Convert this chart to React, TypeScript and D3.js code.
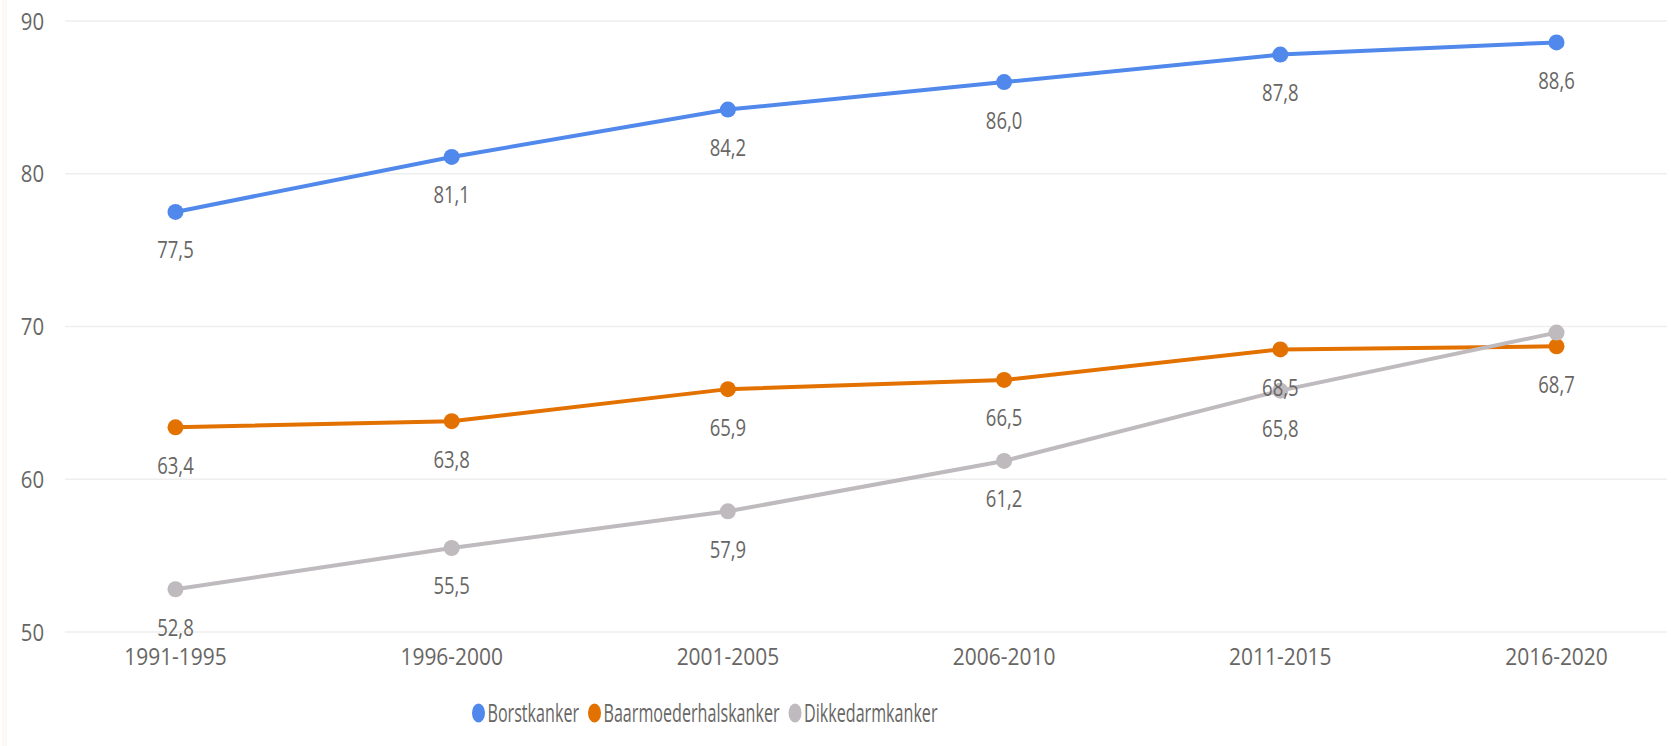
import React, { useRef, useEffect } from 'react';
import * as d3 from 'd3';

const periods = ['1991-1995', '1996-2000', '2001-2005', '2006-2010', '2011-2015', '2016-2020'];
const borst = [77.5, 81.1, 84.2, 86.0, 87.8, 88.6];
const baarmoeder = [63.4, 63.8, 65.9, 66.5, 68.5, 68.7];
const dikkedarm = [52.8, 55.5, 57.9, 61.2, 65.8, 69.6];
// the last dikkedarm label is not shown in the original
const dikkedarmLabelShown = [true, true, true, true, true, false];
const yTicks = [50, 60, 70, 80, 90];

const seriesNames = ['Borstkanker', 'Baarmoederhalskanker', 'Dikkedarmkanker'];
const seriesColors = ['#5088EC', '#E37100', '#BEBABD'];

export default function App() {
  const svgRef = useRef<SVGSVGElement>(null);

  useEffect(() => {
    const w = 1671;
    const h = 746;
    const left = 65;
    const right = 1667;
    const top = 21;
    const bottom = 632;
    const textColor = '#686664';
    const font = '"Segoe UI", "Open Sans", sans-serif';

    const svg = d3.select(svgRef.current);
    svg.selectAll('*').remove();
    svg.attr('width', w).attr('height', h).style('display', 'block');

    const x = d3.scalePoint<string>().domain(periods).range([left, right]).padding(0.4);
    const y = d3.scaleLinear().domain([50, 90]).range([bottom, top]);

    // faint left border
    svg.append('rect').attr('x', 2).attr('y', 0).attr('width', 5).attr('height', h).attr('fill', '#FCF9F6');

    // gridlines
    svg
      .append('g')
      .selectAll('line')
      .data(yTicks)
      .join('line')
      .attr('x1', left)
      .attr('x2', right)
      .attr('y1', (d) => y(d))
      .attr('y2', (d) => y(d))
      .attr('stroke', '#EEEEEE')
      .attr('stroke-width', 1.5);

    // y labels
    svg
      .append('g')
      .selectAll('text')
      .data(yTicks)
      .join('text')
      .attr('transform', (d) => `translate(44,${y(d) + 8.5}) scale(0.83,1)`)
      .attr('text-anchor', 'end')
      .attr('font-family', font)
      .attr('font-size', 24.5)
      .attr('fill', textColor)
      .text((d) => d);

    // x labels
    svg
      .append('g')
      .selectAll('text')
      .data(periods)
      .join('text')
      .attr('transform', (d) => `translate(${x(d)},665) scale(0.855,1)`)
      .attr('text-anchor', 'middle')
      .attr('font-family', font)
      .attr('font-size', 24.5)
      .attr('fill', textColor)
      .text((d) => d);

    const allSeries = [borst, baarmoeder, dikkedarm];
    const line = d3
      .line<number>()
      .x((d, i) => x(periods[i]) as number)
      .y((d) => y(d));

    allSeries.forEach((values, s) => {
      const g = svg.append('g');
      g.append('path')
        .attr('d', line(values))
        .attr('fill', 'none')
        .attr('stroke', seriesColors[s])
        .attr('stroke-width', 4);
      g.selectAll('circle')
        .data(values)
        .join('circle')
        .attr('cx', (d, i) => x(periods[i]) as number)
        .attr('cy', (d) => y(d))
        .attr('r', 8)
        .attr('fill', seriesColors[s]);
    });

    // data labels
    const fmt = (v: number) => v.toFixed(1).replace('.', ',');
    allSeries.forEach((values, s) => {
      svg
        .append('g')
        .selectAll('text')
        .data(values.map((v, i) => ({ v, i })).filter((d) => s !== 2 || dikkedarmLabelShown[d.i]))
        .join('text')
        .attr('transform', (d) => `translate(${x(periods[d.i])},${y(d.v) + 46.5}) scale(0.79,1)`)
        .attr('text-anchor', 'middle')
        .attr('font-family', font)
        .attr('font-size', 23.4)
        .attr('fill', textColor)
        .text((d) => fmt(d.v));
    });

    // legend
    const legend = svg.append('g');
    const squeeze = 0.65;
    let cx = 472;
    const ly = 713;
    seriesNames.forEach((name, s) => {
      legend
        .append('ellipse')
        .attr('cx', cx + 6.5)
        .attr('cy', ly)
        .attr('rx', 6.5)
        .attr('ry', 9.5)
        .attr('fill', seriesColors[s]);
      const t = legend
        .append('text')
        .attr('font-family', font)
        .attr('font-size', 24.8)
        .attr('fill', textColor)
        .attr('transform', `translate(${cx + 15.5},${ly + 9}) scale(${squeeze},1)`)
        .text(name);
      const tw = (t.node() as SVGTextElement).getComputedTextLength() * squeeze;
      cx = cx + 15.5 + tw + 9;
    });
  }, []);

  return (
    <div style={{ position: 'absolute', left: 0, top: 0 }}>
      <svg ref={svgRef}></svg>
    </div>
  );
}
